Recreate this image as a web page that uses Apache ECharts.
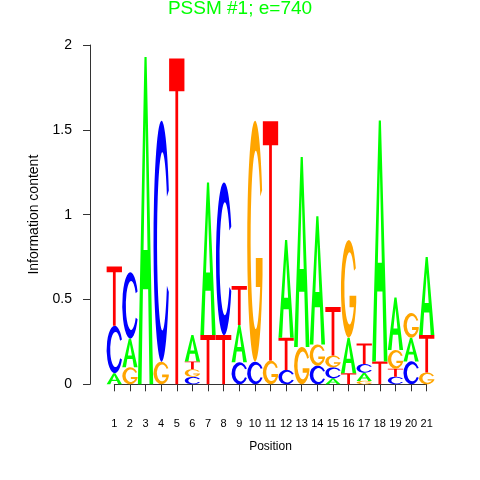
<!DOCTYPE html>
<html><head><meta charset="utf-8">
<script src="https://cdn.jsdelivr.net/npm/echarts@6/dist/echarts.min.js"></script>
<style>html,body{margin:0;padding:0;background:#fff}#c{width:480px;height:480px}</style>
</head><body><div id="c"></div>
<script>
// Sequence logo data (information content in bits per letter)
const positions = [1,2,3,4,5,6,7,8,9,10,11,12,13,14,15,16,17,18,19,20,21];
const bitsA = [0.065,0.17,1.93,0,0,0.155,0.90,0,0.22,0,0,0.575,1.12,0.755,0.035,0.21,0.048,1.42,0.31,0.14,0.46];
const bitsC = [0.28,0.39,0,1.42,0,0.044,0,0.90,0.13,0.133,0,0.085,0,0.11,0.065,0,0.052,0,0.045,0.135,0];
const bitsG = [0,0.10,0,0.133,0,0.045,0,0,0,1.42,0.14,0,0.22,0.125,0.07,0.575,0.02,0,0.11,0.145,0.07];
const bitsT = [0.35,0,0,0,1.92,0.046,0.29,0.29,0.23,0,1.41,0.19,0,0,0.285,0.065,0.12,0.135,0.047,0,0.22];
const yTicks = [0,0.5,1,1.5,2];
const titleText = 'PSSM #1; e=740';

const COLORS = {A:'#00FF00', C:'#0000FF', G:'#FFA500', T:'#FF0000'};
const PATHS = {
  A: 'M0 100 L43 0 L57 0 L100 100 L76 100 L67 71 L33 71 L24 100 Z M37 59 L63 59 L50 20 Z',
  C: 'M95.3 28.9 A50 50 0 1 0 95.3 71.1 L83.6 68.5 A33 37 0 1 1 83.6 31.5 Z',
  G: 'M95.3 28.9 A50 50 0 1 0 98 64 L98 57 L55 57 L55 69 L82.8 69 A33 37 0 1 1 83.6 31.5 Z',
  T: 'M0 0 L100 0 L100 10 L59 10 L59 100 L41 100 L41 10 L0 10 Z'
};
const BITS = {A:bitsA, C:bitsC, G:bitsG, T:bitsT};

const chart = echarts.init(document.getElementById('c'), null, {renderer:'canvas'});
chart.setOption({
  animation:false,
  backgroundColor:'#fff',
  title:{
    text:titleText, left:'center', top:-1, padding:0,
    textStyle:{color:'#00FF00', fontSize:19, fontWeight:'normal', fontFamily:'Liberation Sans, Arial, sans-serif'}
  },
  grid:{left:114.3, right:53.3, top:45, bottom:95.7},
  xAxis:{
    type:'value', min:1, max:21, interval:1, offset:17,
    name:'Position', nameLocation:'middle', nameGap:39,
    nameTextStyle:{fontSize:12, color:'#000', fontFamily:'Liberation Sans, Arial, sans-serif'},
    axisLine:{show:true, lineStyle:{color:'#333', width:1}},
    axisTick:{show:true, length:7, lineStyle:{color:'#333'}},
    axisLabel:{margin:17, fontSize:11, color:'#000', fontFamily:'Liberation Sans, Arial, sans-serif',
      formatter: v => positions.indexOf(v) >= 0 ? String(v) : ''},
    splitLine:{show:false}
  },
  yAxis:{
    type:'value', min:0, max:2, interval:0.5, offset:24.3,
    name:'Information content', nameLocation:'middle', nameGap:41,
    nameTextStyle:{fontSize:14, color:'#000', fontFamily:'Liberation Sans, Arial, sans-serif'},
    axisLine:{show:true, lineStyle:{color:'#333', width:1}},
    axisTick:{show:true, length:7, lineStyle:{color:'#333'}},
    axisLabel:{margin:18, fontSize:14, color:'#000', fontFamily:'Liberation Sans, Arial, sans-serif',
      formatter: v => yTicks.indexOf(v) >= 0 ? String(v) : ''},
    splitLine:{show:false}
  },
  series:[{
    type:'custom',
    clip:false,
    silent:true,
    data: positions.map(p => [p, 0]),
    renderItem: function(params, api){
      const i = params.dataIndex;
      const p = positions[i];
      const letters = ['A','C','G','T']
        .map(L => [L, BITS[L][i]])
        .filter(d => d[1] > 0)
        .sort((a,b) => a[1]-b[1]);
      let base = 0;
      const children = [];
      letters.forEach(([L,h]) => {
        const tl = api.coord([p-0.49, base+h]);
        const br = api.coord([p+0.49, base]);
        children.push({
          type:'path',
          shape:{pathData:PATHS[L], layout:'cover', x:tl[0], y:tl[1], width:br[0]-tl[0], height:br[1]-tl[1]},
          style:{fill:COLORS[L], stroke:null}
        });
        base += h;
      });
      return {type:'group', children:children};
    }
  }]
});
</script>
</body></html>
